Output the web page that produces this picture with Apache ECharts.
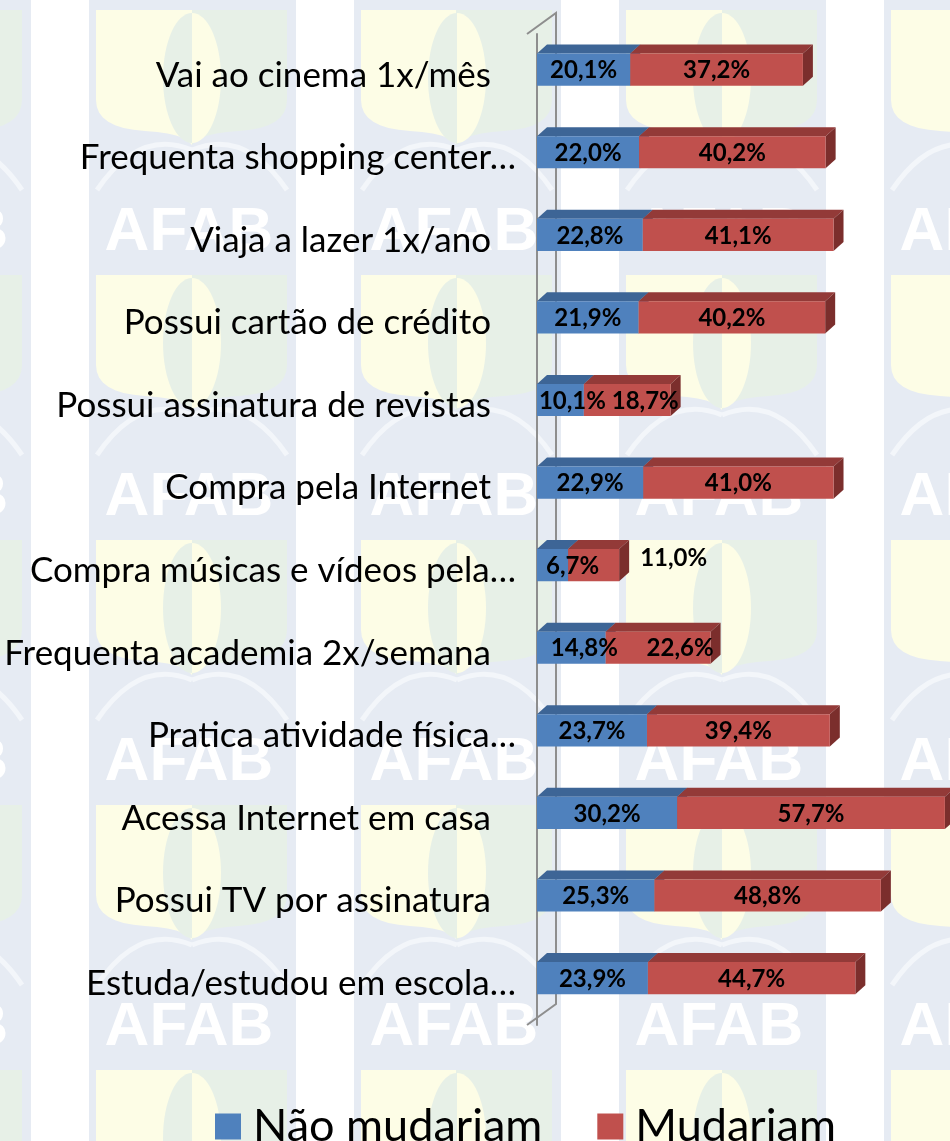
<!DOCTYPE html>
<html>
<head>
<meta charset="utf-8">
<script src="https://cdn.jsdelivr.net/npm/echarts@6/dist/echarts.min.js"></script>
<style>html,body{margin:0;padding:0;background:#fff}#c{width:950px;height:1141px}</style>
</head>
<body>
<div id="c"></div>
<script>
const categories = [
  'Vai ao cinema 1x/mês',
  'Frequenta shopping center…',
  'Viaja a lazer 1x/ano',
  'Possui cartão de crédito',
  'Possui assinatura de revistas',
  'Compra pela Internet',
  'Compra músicas e vídeos pela…',
  'Frequenta academia 2x/semana',
  'Pratica atividade física…',
  'Acessa Internet em casa',
  'Possui TV por assinatura',
  'Estuda/estudou em escola…'
];
const seriesNames = ['Não mudariam', 'Mudariam'];
const naoMudariam = [20.1, 22.0, 22.8, 21.9, 10.1, 22.9, 6.7, 14.8, 23.7, 30.2, 25.3, 23.9];
const mudariam = [37.2, 40.2, 41.1, 40.2, 18.7, 41.0, 11.0, 22.6, 39.4, 57.7, 48.8, 44.7];

// styles
const COLORS = [
  {front: '#4F81BD', top: '#3D6596', side: '#365A87'},
  {front: '#C0504D', top: '#933A38', side: '#7B2E2C'}
];
const DEPTH_X = 10, DEPTH_Y = 9;
const BAR_FRAC = 0.39, BAR_SHIFT = 0.068;
const FONT = 'Lato';
// label placement tweaks (series-index -> pixel nudge), as the original spreads crowded labels apart
const OUTSIDE_LABEL = {series: 1, index: 6};
const LABEL_NUDGE = {'0-4': 12, '1-4': 18, '0-6': 20, '0-7': 13, '1-7': 22};

// build stacked data
const valueLists = [naoMudariam, mudariam];
const stacked = valueLists.map(() => []);
const labelData = [];
categories.forEach((c, i) => {
  let acc = 0;
  valueLists.forEach((list, s) => {
    const v = list[i];
    stacked[s].push([i, acc, acc + v, v]);
    labelData.push([i, acc, acc + v, v, s]);
    acc += v;
  });
});

function geom(api, cat, a, b) {
  const p0 = api.coord([a, cat]);
  const p1 = api.coord([b, cat]);
  const band = api.size([0, 1])[1];
  const h = band * BAR_FRAC;
  const yc = p0[1] - band * BAR_SHIFT;
  return {x0: p0[0], x1: p1[0], y0: yc - h / 2, y1: yc + h / 2, yc: yc};
}

function barRender(s) {
  const col = COLORS[s];
  return function (params, api) {
    const g = geom(api, api.value(0), api.value(1), api.value(2));
    return {
      type: 'group',
      children: [
        {type: 'polygon', shape: {points: [[g.x0, g.y0], [g.x1, g.y0], [g.x1 + DEPTH_X, g.y0 - DEPTH_Y], [g.x0 + DEPTH_X, g.y0 - DEPTH_Y]]},
          style: {fill: col.top}},
        {type: 'polygon', shape: {points: [[g.x1, g.y0], [g.x1 + DEPTH_X, g.y0 - DEPTH_Y], [g.x1 + DEPTH_X, g.y1 - DEPTH_Y], [g.x1, g.y1]]},
          style: {fill: col.side}},
        {type: 'rect', shape: {x: g.x0, y: g.y0, width: g.x1 - g.x0, height: g.y1 - g.y0},
          style: {fill: col.front}}
      ]
    };
  };
}

function fmt(v) { return v.toFixed(1).replace('.', ',') + '%'; }

function labelRender(params, api) {
  const s = api.value(4);
  const idx = api.value(0);
  const g = geom(api, idx, api.value(1), api.value(2));
  const outside = (s === OUTSIDE_LABEL.series && idx === OUTSIDE_LABEL.index);
  const nudge = LABEL_NUDGE[s + '-' + idx] || 0;
  return {
    type: 'text',
    style: {
      text: fmt(api.value(3)),
      x: outside ? g.x1 + DEPTH_X + 11 : (g.x0 + g.x1) / 2 + nudge,
      y: outside ? g.yc - 7 : g.yc + 1,
      align: outside ? 'left' : 'center',
      verticalAlign: 'middle',
      fontSize: 24,
      fontWeight: 'bold',
      fontFamily: FONT,
      fill: '#000'
    }
  };
}

function wallRender(params, api) {
  const band = api.size([0, 1])[1];
  const pTop = api.coord([0, 0]);
  const pBot = api.coord([0, categories.length - 1]);
  const x = pTop[0] - 10;
  const top = pTop[1] - band / 2;
  const bot = pBot[1] + band / 2;
  return {
    type: 'polyline',
    shape: {points: [[x, top], [x + 29, top - 21], [x + 29, bot - 21], [x, bot]]},
    style: {stroke: '#8E8E8E', lineWidth: 2, fill: null}
  };
}

// decorative background watermark tiles
function quad(p0, c, p1, n) {
  const pts = [];
  for (let k = 1; k <= n; k++) {
    const t = k / n, u = 1 - t;
    pts.push([u * u * p0[0] + 2 * u * t * c[0] + t * t * p1[0], u * u * p0[1] + 2 * u * t * c[1] + t * t * p1[1]]);
  }
  return pts;
}
function shieldPoints(x0, y0) {
  const L = x0 + 7, R = x0 + 198, M = x0 + 103, T = y0 + 10;
  let pts = [[L, T], [R, T], [R, y0 + 100]];
  pts = pts.concat(quad([R, y0 + 100], [R, y0 + 128], [x0 + 150, y0 + 131], 8));
  pts = pts.concat(quad([x0 + 150, y0 + 131], [M + 8, y0 + 133], [M, y0 + 145], 6));
  pts = pts.concat(quad([M, y0 + 145], [M - 8, y0 + 133], [x0 + 56, y0 + 131], 6));
  pts = pts.concat(quad([x0 + 56, y0 + 131], [L, y0 + 128], [L, y0 + 100], 8));
  return pts;
}
const bg = [];
const TILE = 265, COLW = 207, X0 = 89;
const YEL = '#FDFDE6', GRN = '#E7F0E7', BLUEGREY = '#E6EBF3';
const split = (a, b) => ({type: 'linear', x: 0, y: 0, x2: 1, y2: 0, colorStops: [
  {offset: 0, color: a}, {offset: 0.5, color: a}, {offset: 0.5, color: b}, {offset: 1, color: b}]});
for (let i = -1; i < 4; i++) {
  const x0 = X0 + TILE * i;
  bg.push({type: 'rect', z: -20, silent: true, shape: {x: x0, y: 0, width: COLW, height: 1141}, style: {fill: BLUEGREY}});
  for (let j = 0; j < 5; j++) {
    const y0 = TILE * j;
    bg.push({type: 'polygon', z: -19, silent: true, shape: {points: shieldPoints(x0, y0)}, style: {fill: split(YEL, GRN)}});
    bg.push({type: 'ellipse', z: -18, silent: true,
      shape: {cx: x0 + 103, cy: y0 + 78, rx: 29, ry: 65}, style: {fill: split(GRN, YEL)}});
    bg.push({type: 'bezierCurve', z: -17, silent: true,
      shape: {x1: x0 + 103, y1: y0 + 150, x2: x0 + 8, y2: y0 + 190, cpx1: x0 + 50, cpy1: y0 + 128},
      style: {stroke: '#F3F6FA', lineWidth: 5, fill: null}});
    bg.push({type: 'bezierCurve', z: -17, silent: true,
      shape: {x1: x0 + 103, y1: y0 + 150, x2: x0 + 198, y2: y0 + 190, cpx1: x0 + 156, cpy1: y0 + 128},
      style: {stroke: '#F3F6FA', lineWidth: 5, fill: null}});
    bg.push({type: 'text', z: -16, silent: true,
      style: {text: 'AFAB', x: x0 + 100, y: y0 + 233, align: 'center', verticalAlign: 'middle',
        fontSize: 62, fontWeight: 'bold', fontFamily: 'Liberation Sans', fill: '#FFFFFF'}});
  }
}

const chart = echarts.init(document.getElementById('c'), null, {renderer: 'canvas'});
chart.setOption({
  backgroundColor: '#FFFFFF',
  animation: false,
  graphic: {elements: bg},
  legend: {
    data: seriesNames,
    left: 215, top: 1104, padding: 0,
    icon: 'rect', itemWidth: 26, itemHeight: 26, itemGap: 55,
    textStyle: {fontSize: 45, fontFamily: FONT, color: '#000', padding: [0, 0, 0, 7]}
  },
  grid: {left: 537, right: 0, top: 34, height: 991, containLabel: false},
  xAxis: {type: 'value', min: 0, max: 89, show: false},
  yAxis: {
    type: 'category', data: categories, inverse: true, offset: 10,
    axisLine: {lineStyle: {color: '#8E8E8E', width: 2}},
    axisTick: {length: 10, lineStyle: {color: '#8E8E8E', width: 2}},
    axisLabel: {
      fontSize: 35, fontFamily: FONT, color: '#000', margin: 11,
      formatter: v => v.endsWith('…') ? v : '{p|' + v + '}',
      rich: {p: {fontSize: 35, fontFamily: FONT, color: '#000', padding: [0, 25, 0, 0]}}
    },
    splitLine: {show: false}
  },
  series: [
    {type: 'custom', name: 'wall', silent: true, clip: false, z: 1,
      data: [[0, 0]], encode: {x: 1, y: 0}, renderItem: wallRender},
    {type: 'custom', name: seriesNames[0], clip: false, z: 2, itemStyle: {color: COLORS[0].front},
      data: stacked[0], encode: {x: [1, 2], y: 0}, renderItem: barRender(0)},
    {type: 'custom', name: seriesNames[1], clip: false, z: 2, itemStyle: {color: COLORS[1].front},
      data: stacked[1], encode: {x: [1, 2], y: 0}, renderItem: barRender(1)},
    {type: 'custom', name: 'labels', silent: true, clip: false, z: 5,
      data: labelData, encode: {x: [1, 2], y: 0}, renderItem: labelRender}
  ]
});
</script>
</body>
</html>
